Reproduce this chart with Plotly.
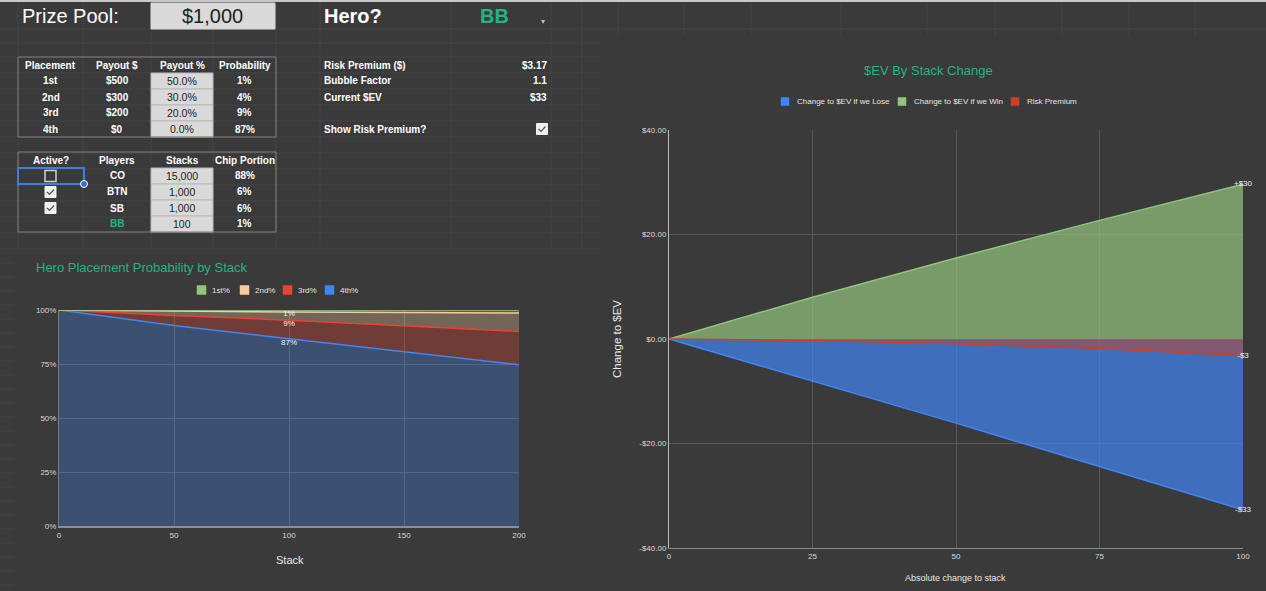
import plotly.graph_objects as go

W, H = 1266, 591
BG = "#3a3a3a"
TEAL = "#25b287"
FONT = "Arial, Liberation Sans, sans-serif"

# sheet values
prize_pool = "$1,000"
hero = "BB"

table1_header = ["Placement", "Payout $", "Payout %", "Probability"]
placements = ["1st", "2nd", "3rd", "4th"]
payouts = ["$500", "$300", "$200", "$0"]
payout_pct = ["50.0%", "30.0%", "20.0%", "0.0%"]
probability = ["1%", "4%", "9%", "87%"]

table2_header = ["Active?", "Players", "Stacks", "Chip Portion"]
active = [False, True, True, None]
players = ["CO", "BTN", "SB", "BB"]
stacks = ["15,000", "1,000", "1,000", "100"]
chip_portion = ["88%", "6%", "6%", "1%"]

info_labels = ["Risk Premium ($)", "Bubble Factor", "Current $EV"]
info_values = ["$3.17", "1.1", "$33"]
show_risk_premium = True

# placement probability by stack (stacked %)
stack_x = [0, 50, 100, 150, 200]
pct_1st = [0, 0.6, 0.9, 1.2, 1.4]
pct_2nd = [0, 2.0, 3.8, 6.0, 8.5]
pct_3rd = [0, 4.6, 8.6, 12.2, 15.4]
pct_4th = [100, 92.8, 86.7, 80.6, 74.7]
place_names = ["1st%", "2nd%", "3rd%", "4th%"]

# $EV by stack change
stack_change = [0, 25, 50, 75, 100]
ev_lose = [0, -8.0, -16.1, -24.4, -32.7]
ev_win = [0, 8.0, 15.5, 22.7, 29.6]
risk_premium = [0, -0.3, -0.9, -1.8, -3.17]
ev_names = ["Change to $EV if we Lose", "Change to $EV if we Win", "Risk Premium"]
ev_ticks = [-40, -20, 0, 20, 40]
ev_tick_text = ["-$40.00", "-$20.00", "$0.00", "$20.00", "$40.00"]


def px(x):
    return x / W


def py(y):
    return 1 - y / H


shapes = []
annotations = []


def add_text(x, y, s, size=10, color="white", bold=False, anchor="center", angle=0):
    annotations.append(dict(
        x=px(x), y=py(y), xref="paper", yref="paper", showarrow=False,
        text=f"<b>{s}</b>" if bold else s, xanchor=anchor, yanchor="middle",
        textangle=angle, font=dict(family=FONT, size=size, color=color),
    ))


def add_rect(x0, y0, x1, y1, fill=None, line="#808080", width=1):
    shapes.append(dict(
        type="rect", xref="paper", yref="paper",
        x0=px(x0), x1=px(x1), y0=py(y1), y1=py(y0),
        fillcolor=fill or "rgba(0,0,0,0)", line=dict(color=line, width=width),
    ))


def add_line(x0, y0, x1, y1, color="#444444", width=1):
    shapes.append(dict(
        type="line", xref="paper", yref="paper", layer="below",
        x0=px(x0), x1=px(x1), y0=py(y0), y1=py(y1),
        line=dict(color=color, width=width),
    ))


def add_checkbox(cx, cy, checked):
    if checked:
        add_rect(cx - 5.5, cy - 5.5, cx + 5.5, cy + 5.5, fill="#f0f0f0", line="#f0f0f0")
        path = (f"M {px(cx - 3.5)},{py(cy)} L {px(cx - 1)},{py(cy + 2.5)} "
                f"L {px(cx + 3.5)},{py(cy - 2.5)}")
        shapes.append(dict(type="path", xref="paper", yref="paper", path=path,
                           line=dict(color="#555555", width=1.2)))
    else:
        add_rect(cx - 5.5, cy - 5.5, cx + 5.5, cy + 5.5, line="#d0d0d0", width=1.5)


def add_legend(starts, y, names, colors, box=9, gap=4):
    for x0, name, color in zip(starts, names, colors):
        add_rect(x0, y - box / 2, x0 + box, y + box / 2, fill=color, line=color, width=0.5)
        add_text(x0 + box + gap, y, name, size=8, color="#e4e4e4", anchor="left")


# faint spreadsheet grid
grid_cols = [18, 83, 151, 213, 276, 320, 451, 551, 582, 618, 684, 751, 841,
             927, 995, 1062, 1129, 1195]
grid_rows = [29, 43] + list(range(57, 250, 16))
for gx in grid_cols:
    add_line(gx, 0, gx, 248 if gx < 600 else 35)
for gy in grid_rows:
    add_line(0, gy, 600 if gy > 35 else W, gy)
for gy in range(263, H, 14):
    add_line(0, gy, 14, gy)
add_line(0, 1, W, 1, color="#c8c8c8", width=2)

# top row
add_text(20, 16, "Prize Pool:", size=20, anchor="left")
add_rect(151, 3, 275, 29, fill="#d9d9d9", line="#d9d9d9")
add_text(213, 16, prize_pool, size=20, color="#222222")
add_text(322, 16, "Hero?", size=20, bold=True, anchor="left")
add_text(494, 16, hero, size=20, color=TEAL, bold=True)
add_text(543, 22, "▾", size=8, color="#bbbbbb")

# tables
col_edges = [18, 83, 151, 213, 276]
col_mid = [(a + b) / 2 for a, b in zip(col_edges[:-1], col_edges[1:])]


def draw_table(top, header, columns, gray_col):
    n_rows = len(columns[gray_col])
    for i in range(n_rows):
        y0 = top + 16 * (i + 1)
        add_rect(col_edges[gray_col], y0, col_edges[gray_col + 1], y0 + 16,
                 fill="#d9d9d9", line="#b9b9b9")
    add_rect(col_edges[0], top, col_edges[-1], top + 16 * (n_rows + 1))
    for c, label in enumerate(header):
        add_text(col_mid[c], top + 8, label, bold=True)
    for c, col in enumerate(columns):
        if col is None:
            continue
        for i, val in enumerate(col):
            if c == gray_col:
                add_text(col_mid[c], top + 24 + 16 * i, val, size=10.5, color="#222222")
            else:
                color = TEAL if val == hero else "white"
                add_text(col_mid[c], top + 24 + 16 * i, val, color=color, bold=True)


draw_table(57, table1_header, [placements, payouts, payout_pct, probability], 2)
draw_table(152, table2_header, [None, players, stacks, chip_portion], 2)
for i, state in enumerate(active):
    if state is not None:
        add_checkbox(col_mid[0], 176 + 16 * i, state)
add_rect(18, 168, 84, 184, line="#3d7fe0", width=2)
shapes.append(dict(type="circle", xref="paper", yref="paper",
                   x0=px(80.5), x1=px(87.5), y0=py(187.5), y1=py(180.5),
                   fillcolor="#2f6fd6", line=dict(color="white", width=1)))

# info block
for i, (lab, val) in enumerate(zip(info_labels, info_values)):
    add_text(322, 65 + 16 * i, lab, bold=True, anchor="left")
    add_text(549, 65 + 16 * i, val, bold=True, anchor="right")
add_text(322, 129, "Show Risk Premium?", bold=True, anchor="left")
add_checkbox(542, 129, show_risk_premium)

# chart titles, legends and axis titles
place_colors = ["#93c47d", "#f9cb9c", "#ea4335", "#4285f4"]
ev_colors = ["#4285f4", "#93c47d", "#cc4125"]

add_text(34, 267, "Hero Placement Probability by Stack", size=13, color=TEAL, anchor="left")
add_legend([197, 240, 283, 325], 290, place_names, place_colors)
add_text(290, 560, "Stack", size=11, color="#e8e8e8")
add_text(928, 71, "$EV By Stack Change", size=13, color=TEAL)
add_legend([781, 898, 1011], 101.5, ev_names, ev_colors, box=8, gap=6)
add_text(956, 578, "Absolute change to stack", size=9, color="#e8e8e8")
add_text(617, 339, "Change to $EV", size=11.5, color="#e8e8e8", angle=-90)

fig = go.Figure()

# placement probability, stacked from 4th at the bottom
place_fills = ["rgba(147,196,125,0.3)", "rgba(249,203,156,0.3)",
               "rgba(234,67,53,0.3)", "rgba(66,133,244,0.3)"]
place_series = [pct_1st, pct_2nd, pct_3rd, pct_4th]
label_idx = stack_x.index(100)
for k in [3, 2, 1, 0]:
    vals = place_series[k]
    labels = ["" for _ in vals]
    if k != 1:
        labels[label_idx] = f"{vals[label_idx]:.0f}%"
    fig.add_trace(go.Scatter(
        x=stack_x, y=vals, stackgroup="place", mode="lines+text",
        name=place_names[k],
        line=dict(color=place_colors[k], width=1.5), fillcolor=place_fills[k],
        text=labels, textposition="bottom center", cliponaxis=False,
        textfont=dict(family=FONT, size=8, color="#f0f0f0"),
        hoverinfo="skip", xaxis="x", yaxis="y",
    ))

# $EV by stack change
ev_fills = ["rgba(66,133,244,0.7)", "rgba(147,196,125,0.7)", "rgba(204,65,37,0.5)"]
for vals, name, color, fill in zip([ev_lose, ev_win, risk_premium], ev_names,
                                   ev_colors, ev_fills):
    last = vals[-1]
    labels = ["" for _ in vals]
    labels[-1] = f"+${last:.0f}" if last > 0 else f"-${abs(last):.0f}"
    fig.add_trace(go.Scatter(
        x=stack_change, y=vals, fill="tozeroy", mode="lines+text", name=name,
        line=dict(color=color, width=1.5), fillcolor=fill,
        text=labels, textposition="middle center", cliponaxis=False,
        textfont=dict(family=FONT, size=8, color="#f0f0f0"),
        hoverinfo="skip", xaxis="x2", yaxis="y2",
    ))

tick_font = dict(family=FONT, size=8, color="#d8d8d8")

fig.update_layout(
    width=W, height=H, autosize=False, showlegend=False,
    margin=dict(l=0, r=0, t=0, b=0, autoexpand=False),
    paper_bgcolor=BG, plot_bgcolor=BG,
    font=dict(family=FONT, color="white"),
    shapes=shapes, annotations=annotations,
    xaxis=dict(domain=[px(59), px(519)], anchor="y", range=[0, 200], dtick=50,
               showgrid=True, gridcolor="#5c5c5c", zeroline=False,
               showline=True, linecolor="#8f8f8f", linewidth=2,
               tickfont=tick_font, ticks="", automargin=False),
    yaxis=dict(domain=[py(526), py(310)], anchor="x", range=[0, 100], dtick=25,
               ticksuffix="%", showgrid=True, gridcolor="#5c5c5c", zeroline=False,
               showline=True, linecolor="#7a7a7a", linewidth=1,
               tickfont=tick_font, ticks="", automargin=False),
    xaxis2=dict(domain=[px(669), px(1243)], anchor="y2", range=[0, 100], dtick=25,
                showgrid=True, gridcolor="#595959", zeroline=False,
                showline=True, linecolor="#888888", linewidth=1,
                tickfont=tick_font, ticks="", automargin=False),
    yaxis2=dict(domain=[py(548), py(130)], anchor="x2", range=[-40, 40],
                tickvals=ev_ticks, ticktext=ev_tick_text,
                showgrid=True, gridcolor="#595959",
                zeroline=True, zerolinecolor="#6a6a6a", zerolinewidth=1,
                showline=True, linecolor="#bdbdbd", linewidth=1,
                tickfont=tick_font, ticks="", automargin=False),
)

# drop the default page margin so the sheet fills the window edge to edge
page_css = ("document.body.style.margin = '0';"
            "document.documentElement.style.overflow = 'hidden';"
            f"document.documentElement.style.background = '{BG}';")
fig.write_html("out.html", post_script=page_css,
               config={"displayModeBar": False})
